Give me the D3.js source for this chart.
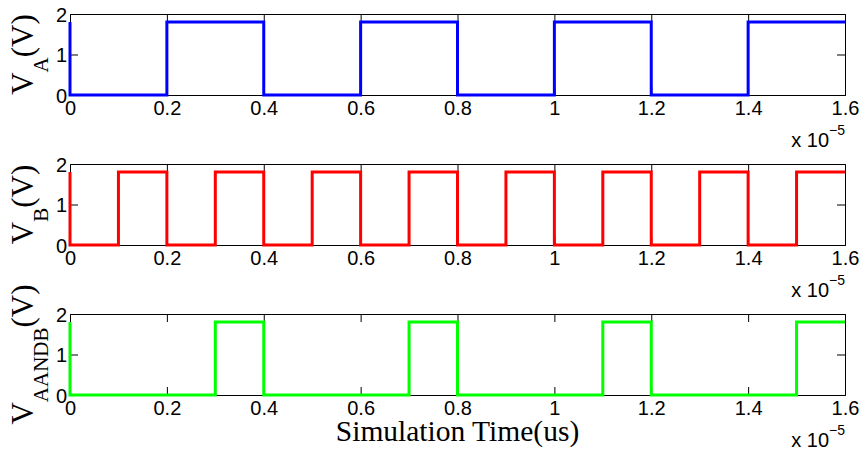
<!DOCTYPE html>
<html>
<head>
<meta charset="utf-8">
<script src="https://cdn.jsdelivr.net/npm/d3@7"></script>
<style>
  body { margin: 0; background: #fff; }
  svg { display: block; }
</style>
</head>
<body>
<div id="chart-area"></div>
<script>
// data (time in units of 1e-5 s, voltage in V)
var timeA = [0, 0, 0.2, 0.4, 0.6, 0.8, 1.0, 1.2, 1.4, 1.6];
var voltA = [1.8, 0, 1.8, 0, 1.8, 0, 1.8, 0, 1.8, 1.8];

var timeB = [0, 0, 0.1, 0.2, 0.3, 0.4, 0.5, 0.6, 0.7, 0.8, 0.9, 1.0, 1.1, 1.2, 1.3, 1.4, 1.5, 1.6];
var voltB = [1.8, 0, 1.8, 0, 1.8, 0, 1.8, 0, 1.8, 0, 1.8, 0, 1.8, 0, 1.8, 0, 1.8, 1.8];

var timeAnd = [0, 0, 0.3, 0.4, 0.7, 0.8, 1.1, 1.2, 1.5, 1.6];
var voltAnd = [1.8, 0, 1.8, 0, 1.8, 0, 1.8, 0, 1.8, 1.8];

var xTicks = [0, 0.2, 0.4, 0.6, 0.8, 1, 1.2, 1.4, 1.6];
var yTicks = [0, 1, 2];

var panels = [
    { t: timeA, v: voltA, color: "#0000ff", sub: "A", top: 14 },
    { t: timeB, v: voltB, color: "#ff0000", sub: "B", top: 164 },
    { t: timeAnd, v: voltAnd, color: "#00ff00", sub: "AANDB", top: 314 }
];

var W = 863, H = 455;
var left = 70, plotW = 775, plotH = 81;
var tickLen = 8;

var svg = d3.select("#chart-area")
    .append("svg")
    .attr("width", W)
    .attr("height", H);

var x = d3.scaleLinear().domain([0, 1.6]).range([0, plotW]);
var y = d3.scaleLinear().domain([0, 2]).range([plotH, 0]);

var tickFont = "'Liberation Sans', Arial, sans-serif";
var serif = "'Liberation Serif', 'Times New Roman', serif";

panels.forEach(function(p) {
    var g = svg.append("g").attr("transform", `translate(${left},${p.top})`);

    // axes (ticks inside, box on)
    var xb = g.append("g").attr("transform", `translate(0,${plotH})`)
        .call(d3.axisBottom(x).tickValues(xTicks).tickSize(-tickLen).tickPadding(tickLen + 8)
            .tickFormat(d3.format("~g")));
    var xt = g.append("g")
        .call(d3.axisTop(x).tickValues(xTicks).tickSize(-tickLen).tickFormat(""));
    var yl = g.append("g")
        .call(d3.axisLeft(y).tickValues(yTicks).tickSize(-tickLen).tickFormat(d3.format("d")));
    var yr = g.append("g").attr("transform", `translate(${plotW},0)`)
        .call(d3.axisRight(y).tickValues(yTicks).tickSize(-tickLen).tickFormat(""));

    [xb, xt, yl, yr].forEach(function(a) {
        a.select(".domain").attr("stroke", "#000").attr("stroke-width", 1);
        a.selectAll(".tick line").attr("stroke", "#000").attr("stroke-width", 1);
        a.selectAll("text").attr("fill", "#000")
            .style("font-family", tickFont).style("font-size", "20px");
    });
    // strip end ticks over the box edges
    xb.selectAll(".tick line").filter(function(d) { return d === 0 || d === 1.6; }).remove();
    xt.selectAll(".tick line").filter(function(d) { return d === 0 || d === 1.6; }).remove();
    yl.selectAll(".tick line").filter(function(d) { return d === 0 || d === 2; }).remove();
    yr.selectAll(".tick line").filter(function(d) { return d === 0 || d === 2; }).remove();

    yl.selectAll("text").attr("x", -3).attr("dy", "0.35em");
    xb.selectAll("text").attr("dy", "0.2em");

    // signal
    var pts = p.t.map(function(t, i) { return [t, p.v[i]]; });
    var line = d3.line()
        .x(function(d) { return x(d[0]); })
        .y(function(d) { return y(d[1]); })
        .curve(d3.curveStepAfter);
    g.append("path")
        .datum(pts)
        .attr("fill", "none")
        .attr("stroke", p.color)
        .attr("stroke-width", 3)
        .attr("d", line);

    // exponent
    var ex = g.append("text")
        .attr("x", plotW)
        .attr("y", plotH + 52)
        .attr("text-anchor", "end")
        .style("font-family", tickFont)
        .style("font-size", "20px")
        .attr("fill", "#000");
    ex.append("tspan").text("x 10");
    ex.append("tspan").attr("dy", -12).style("font-size", "14px").text("\u22125");

    // y label
    var lab = svg.append("text")
        .attr("transform", `translate(33,${p.top + plotH / 2}) rotate(-90)`)
        .attr("text-anchor", "middle")
        .style("font-family", serif)
        .style("font-size", "31px")
        .attr("fill", "#000");
    lab.append("tspan").text("V");
    lab.append("tspan").attr("dy", 15).style("font-size", "21px").text(p.sub);
    lab.append("tspan").attr("dy", -15).text("(V)");
});

svg.append("text")
    .attr("x", left + plotW / 2)
    .attr("y", 441)
    .attr("text-anchor", "middle")
    .style("font-family", serif)
    .style("font-size", "29.5px")
    .attr("fill", "#000")
    .text("Simulation Time(us)");
</script>
</body>
</html>
